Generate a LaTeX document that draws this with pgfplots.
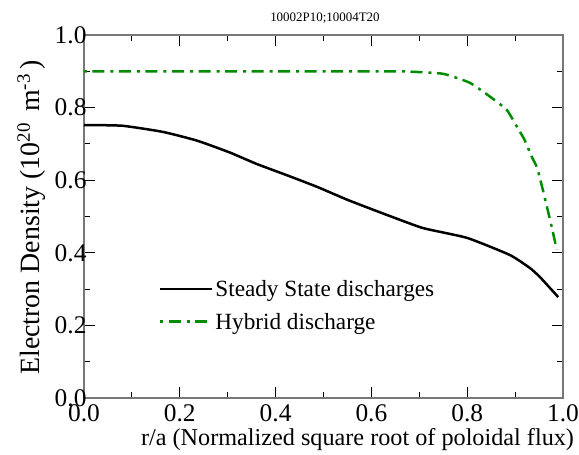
\documentclass[border=0pt]{standalone}
\usepackage{pgfplots}
\pgfplotsset{compat=1.18}
\usepackage{fontspec}
\setmainfont{Liberation Serif}
\definecolor{ggreen}{RGB}{0,140,0}
\definecolor{framegray}{RGB}{120,120,120}
\newcommand\sups[1]{\raisebox{0.36em}{\fontsize{19}{21}\selectfont #1}}
\begin{document}
\begin{tikzpicture}
\path[use as bounding box] (-84bp,-57bp) rectangle (495bp,398bp);
\begin{axis}[
  scale only axis,
  width=479bp, height=363bp,
  xmin=0, xmax=1, ymin=0, ymax=1,
  xtick={0,0.2,0.4,0.6,0.8,1.0}, ytick={0,0.2,0.4,0.6,0.8,1.0},
  minor xtick={0.1,0.3,0.5,0.7,0.9}, minor ytick={0.1,0.3,0.5,0.7,0.9},
  /pgf/number format/fixed,
  /pgf/number format/fixed zerofill,
  /pgf/number format/precision=1,
  /pgf/number format/assume math mode=true,
  tick label style={font=\fontsize{25.5}{28}\selectfont},
  yticklabel style={xshift=6bp},
  xticklabel style={yshift=-3bp},
  tick align=inside,
  major tick length=11bp, minor tick length=6bp,
  every tick/.style={black, line width=0.8bp},
  axis line style={framegray, line width=1.2bp},
  xlabel={r/a (Normalized square root of poloidal flux)},
  ylabel={Electron Density (10\sups{20} \,m\sups{-3}\,)},
  xlabel style={font=\fontsize{24.3}{28}\selectfont, at={(axis description cs:0.571,-0.132)}, anchor=base},
  ylabel style={font=\fontsize{28}{30}\selectfont, at={(axis description cs:-0.0919,0.497)}, anchor=base},
  title={10002P10;10004T20},
  title style={font=\fontsize{13}{15}\selectfont, at={(axis description cs:0.503,1.031)}, anchor=center},
  legend style={draw=none, fill=none, font=\fontsize{23.3}{26}\selectfont,
    at={(axis cs:0.156,0.255)}, anchor=west, row sep=11bp, inner sep=0pt},
  legend cell align=left,
  legend image code/.code={\path (0bp,0bp) -- (52bp,0bp);\draw[#1] (0bp,0bp) -- (37bp,0bp);},
]
\addplot[black, line width=2.5bp, smooth, tension=0.3] coordinates {
(0,0.752) (0.08,0.750) (0.165,0.733) (0.236,0.709) (0.305,0.676)
(0.36,0.645) (0.423,0.614) (0.486,0.582) (0.548,0.547) (0.597,0.522)
(0.639,0.501) (0.708,0.468) (0.80,0.441) (0.889,0.394) (0.931,0.358)
(0.952,0.333) (0.99,0.278)
};
\addlegendentry{Steady State discharges}
\addplot[ggreen, line width=2.5bp, dash pattern=on 3bp off 5.5bp on 12bp off 6bp, smooth, tension=0.3] coordinates {
(0,0.9) (0.618,0.9) (0.68,0.899) (0.75,0.893) (0.806,0.868) (0.854,0.824)
(0.883,0.793) (0.904,0.747) (0.919,0.713) (0.935,0.664) (0.946,0.634)
(0.958,0.573) (0.977,0.468) (0.987,0.408)
};
\addlegendentry{Hybrid discharge}
\end{axis}
\end{tikzpicture}
\end{document}
